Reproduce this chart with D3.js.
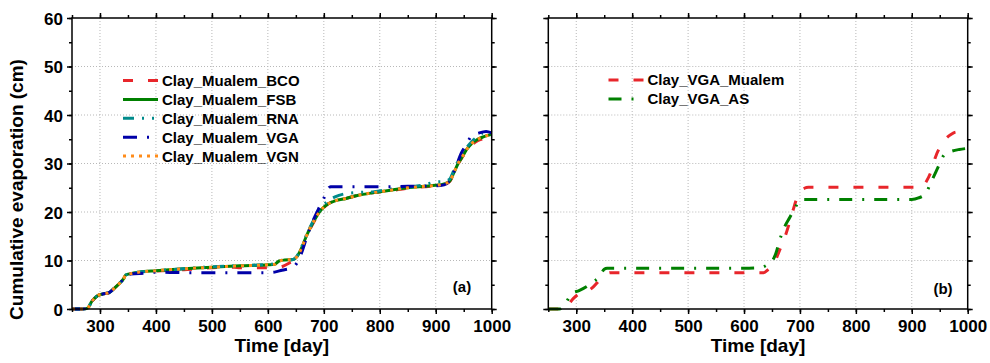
<!DOCTYPE html>
<html>
<head>
<meta charset="utf-8">
<script src="https://cdn.jsdelivr.net/npm/d3@7/dist/d3.min.js"></script>
<style>
  body { margin: 0; background: #fff; }
  svg { display: block; }
  text { font-family: Arial, "Liberation Sans", sans-serif; font-weight: bold; fill: #000; }
</style>
</head>
<body>
<svg id="chart" width="990" height="363"></svg>
<script>
// ---- data ----
var xTicks = [300, 400, 500, 600, 700, 800, 900, 1000];
var yTicks = [0, 10, 20, 30, 40, 50, 60];

var fsbDays = [250,270,278,285,295,305,315,325,335,342,346,355,370,400,450,500,550,600,612,620,630,645,652,660,668,676,684,692,700,708,720,740,760,790,820,850,880,900,915,925,932,940,948,956,965,975,985,1000];
var fsbVals = [0,0,0.2,1.5,2.7,3.1,3.3,4.2,5.3,6.2,7.0,7.3,7.6,7.9,8.3,8.6,8.9,9.1,9.2,9.9,10.1,10.2,10.8,12.5,14.8,16.8,18.5,20.0,21.0,21.7,22.3,22.8,23.4,24.0,24.5,25.0,25.3,25.5,25.8,26.4,28.0,30.0,31.5,33.0,34.2,35.0,35.5,36.0];

var bcoDays = [250,270,278,285,295,305,315,325,335,342,346,355,370,380,400,450,500,540,550,600,620,640,650,660,668,676,684,692,700,708,720,740,760,790,820,850,880,900,915,925,932,940,948,956,965,975,985,1000];
var bcoVals = [0,0,0.2,1.5,2.7,3.1,3.3,4.2,5.3,6.2,7.0,7.3,7.4,7.3,7.8,8.1,8.5,8.6,8.5,8.5,8.6,9.6,10.3,12.3,14.6,16.6,18.3,19.9,20.9,21.7,22.3,22.8,23.4,24.0,24.4,24.9,25.2,25.4,25.7,26.3,27.9,29.9,31.4,32.8,33.9,34.7,35.1,35.5];

var rnaDays = [250,270,278,285,295,305,315,325,335,342,346,355,370,400,450,500,550,600,612,620,630,645,652,660,668,676,684,692,700,708,720,740,760,790,820,850,880,900,915,925,932,940,948,956,965,975,985,1000];
var rnaVals = [0,0,0.2,1.5,2.7,3.1,3.3,4.2,5.3,6.2,7.0,7.3,7.6,7.9,8.3,8.7,8.9,9.2,9.3,9.9,10.1,10.2,10.9,12.7,15.0,17.0,18.8,20.4,21.5,22.3,23.1,23.8,24.0,24.2,24.7,25.1,25.6,26.2,26.3,26.8,28.5,30.5,32.0,33.4,34.6,35.6,36.3,36.0];

var vgaDays = [250,270,278,285,295,305,315,325,335,342,346,355,380,400,450,500,600,612,625,645,652,660,670,680,690,700,706,712,750,800,850,900,915,925,935,945,955,965,975,990,1000];
var vgaVals = [0,0,0.2,1.5,2.7,3.1,3.3,4.2,5.3,6.2,7.0,7.2,7.4,7.6,7.5,7.5,7.5,7.6,8.0,8.6,9.5,11.5,15.0,18.0,20.5,22.8,24.5,25.2,25.2,25.2,25.3,25.4,25.6,26.5,29.0,32.0,34.0,35.8,36.2,36.6,36.3];

var vgnDays = fsbDays;
var vgnVals = [0,0,0.2,1.5,2.7,3.1,3.3,4.2,5.3,6.2,7.0,7.3,7.6,7.9,8.3,8.6,8.9,9.1,9.2,9.9,10.1,10.2,10.8,12.5,14.8,16.8,18.5,20.0,21.0,21.7,22.3,22.8,23.4,24.0,24.5,25.0,25.3,25.5,25.8,26.4,28.0,30.0,31.5,33.0,34.2,35.0,35.5,36.0];

var mualemDays = [250,278,285,295,305,318,330,342,352,362,400,500,600,635,645,652,658,665,672,680,688,695,700,708,715,800,900,918,926,935,942,950,960,970,980,1000];
var mualemVals = [0,0,0.8,2.2,3.1,3.5,4.5,6.0,7.1,7.5,7.5,7.5,7.5,7.5,8.3,8.8,10.5,12.5,14.5,17.3,20.5,23.0,24.2,24.9,25.1,25.1,25.1,25.1,26.3,28.5,31.2,33.3,35.0,36.0,36.5,36.5];

var asDays = [250,270,280,292,305,318,330,342,350,355,400,500,600,628,640,650,657,664,672,682,692,700,706,800,900,912,925,932,940,950,958,968,985,998];
var asVals = [0,0,1.0,3.2,3.8,4.6,5.6,6.7,8.2,8.4,8.4,8.4,8.4,8.5,9.0,9.8,11.5,14.3,16.8,18.9,21.0,22.5,22.6,22.6,22.6,22.9,23.8,25.5,27.5,30.0,31.8,32.4,32.9,33.1];

var panelA = [
  {name: "Clay_Mualem_BCO", days: bcoDays, vals: bcoVals, color: "#e8262b", dash: "10,15"},
  {name: "Clay_Mualem_FSB", days: fsbDays, vals: fsbVals, color: "#008000", dash: null},
  {name: "Clay_Mualem_RNA", days: rnaDays, vals: rnaVals, color: "#008b8b", dash: "11,8,2,8,2,8"},
  {name: "Clay_Mualem_VGA", days: vgaDays, vals: vgaVals, color: "#0000a8", dash: "14,10,2,10"},
  {name: "Clay_Mualem_VGN", days: vgnDays, vals: vgnVals, color: "#ff8c1a", dash: "3,5"}
];
var panelB = [
  {name: "Clay_VGA_Mualem", days: mualemDays, vals: mualemVals, color: "#e8262b", dash: "10,15"},
  {name: "Clay_VGA_AS", days: asDays, vals: asVals, color: "#008000", dash: "13,10,2,10"}
];

var svg = d3.select("#chart");
var top_ = 18, bottom = 309;

function drawPanel(opts) {
  var x = d3.scaleLinear().domain([250, 1000]).range([opts.left, opts.right]);
  var y = d3.scaleLinear().domain([0, 60]).range([bottom, top_]);
  var g = svg.append("g");

  // grid
  g.append("g").selectAll("line").data(xTicks.filter(function(d){ return d < 1000; }))
    .enter().append("line")
    .attr("x1", function(d){ return x(d); }).attr("x2", function(d){ return x(d); })
    .attr("y1", top_).attr("y2", bottom)
    .attr("stroke", "#b8b8b8").attr("stroke-width", 1).attr("stroke-dasharray", "1,2");
  g.append("g").selectAll("line").data(yTicks.filter(function(d){ return d > 0 && d < 60; }))
    .enter().append("line")
    .attr("x1", opts.left).attr("x2", opts.right)
    .attr("y1", function(d){ return y(d); }).attr("y2", function(d){ return y(d); })
    .attr("stroke", "#b8b8b8").attr("stroke-width", 1).attr("stroke-dasharray", "1,2");

  // lines
  var clipId = "clip" + opts.id;
  svg.append("clipPath").attr("id", clipId).append("rect")
    .attr("x", opts.left).attr("y", top_ - 2).attr("width", opts.right - opts.left + 2).attr("height", bottom - top_ + 5);
  var line = d3.line()
    .x(function(d){ return x(d[0]); })
    .y(function(d){ return y(d[1]); })
    .curve(d3.curveMonotoneX);
  var lg = g.append("g").attr("clip-path", "url(#" + clipId + ")");
  opts.series.forEach(function(s) {
    var pts = s.days.map(function(d, i){ return [d, s.vals[i]]; });
    lg.append("path").datum(pts)
      .attr("d", line)
      .attr("fill", "none")
      .attr("stroke", s.color)
      .attr("stroke-width", 3)
      .attr("stroke-dasharray", s.dash);
  });

  // axes: major + minor ticks on all four sides, outward
  var xMinor = d3.range(250, 1001, 50);
  var yMinor = d3.range(0, 61, 5);
  function minor(axis) { return axis.tickSize(3).tickSizeOuter(0).tickFormat(""); }

  g.append("g").attr("transform", "translate(0," + bottom + ")")
    .call(minor(d3.axisBottom(x).tickValues(xMinor)));
  g.append("g").attr("transform", "translate(0," + top_ + ")")
    .call(minor(d3.axisTop(x).tickValues(xMinor)));
  g.append("g").attr("transform", "translate(" + opts.left + ",0)")
    .call(minor(d3.axisLeft(y).tickValues(yMinor)));
  g.append("g").attr("transform", "translate(" + opts.right + ",0)")
    .call(minor(d3.axisRight(y).tickValues(yMinor)));

  var xb = g.append("g").attr("transform", "translate(0," + bottom + ")")
    .call(d3.axisBottom(x).tickValues(xTicks).tickSize(5).tickSizeOuter(0).tickFormat(d3.format("d")));
  xb.selectAll("text").attr("y", 22.5).attr("dy", null).style("font-size", "17px");
  g.append("g").attr("transform", "translate(0," + top_ + ")")
    .call(d3.axisTop(x).tickValues(xTicks).tickSize(5).tickSizeOuter(0).tickFormat(""));
  var yl = g.append("g").attr("transform", "translate(" + opts.left + ",0)")
    .call(d3.axisLeft(y).tickValues(yTicks).tickSize(5).tickSizeOuter(0)
      .tickFormat(opts.yLabels ? d3.format("d") : ""));
  yl.selectAll("text").attr("x", -9).attr("dy", "0.36em").style("font-size", "17px");
  g.append("g").attr("transform", "translate(" + opts.right + ",0)")
    .call(d3.axisRight(y).tickValues(yTicks).tickSize(5).tickSizeOuter(0).tickFormat(""));

  g.selectAll(".domain").remove();
  g.selectAll(".tick line").attr("stroke", "#000").attr("stroke-width", 1.5);

  // frame
  g.append("rect")
    .attr("x", opts.left).attr("y", top_)
    .attr("width", opts.right - opts.left).attr("height", bottom - top_)
    .attr("fill", "none").attr("stroke", "#000").attr("stroke-width", 1.5);

  // x title
  g.append("text")
    .attr("x", (opts.left + opts.right) / 2).attr("y", 352)
    .attr("text-anchor", "middle").style("font-size", "19px")
    .text("Time [day]");

  // panel tag
  g.append("text")
    .attr("x", opts.tagX).attr("y", opts.tagY)
    .attr("text-anchor", "middle").style("font-size", "15px")
    .text(opts.tag);

  // legend
  var leg = g.append("g");
  opts.series.forEach(function(s, i) {
    var ly = opts.legY + i * opts.legStep;
    leg.append("line")
      .attr("x1", opts.legX).attr("x2", opts.legX + 35)
      .attr("y1", ly).attr("y2", ly)
      .attr("stroke", s.color).attr("stroke-width", 3)
      .attr("stroke-dasharray", s.dash);
    leg.append("text")
      .attr("x", opts.legX + 39).attr("y", ly).attr("dy", "0.36em")
      .style("font-size", "15px")
      .text(s.name);
  });
}

drawPanel({id: "a", left: 72, right: 491.7, series: panelA, yLabels: true,
  tag: "(a)", tagX: 462, tagY: 292, legX: 123, legY: 80.5, legStep: 18.9});
drawPanel({id: "b", left: 548.3, right: 967.7, series: panelB, yLabels: false,
  tag: "(b)", tagX: 943, tagY: 294, legX: 608.5, legY: 80, legStep: 19});

// y title
svg.append("text")
  .attr("transform", "translate(23," + ((top_ + bottom) / 2 + 26) + ") rotate(-90)")
  .attr("text-anchor", "middle").style("font-size", "19px")
  .text("Cumulative evaporation (cm)");
</script>
</body>
</html>
